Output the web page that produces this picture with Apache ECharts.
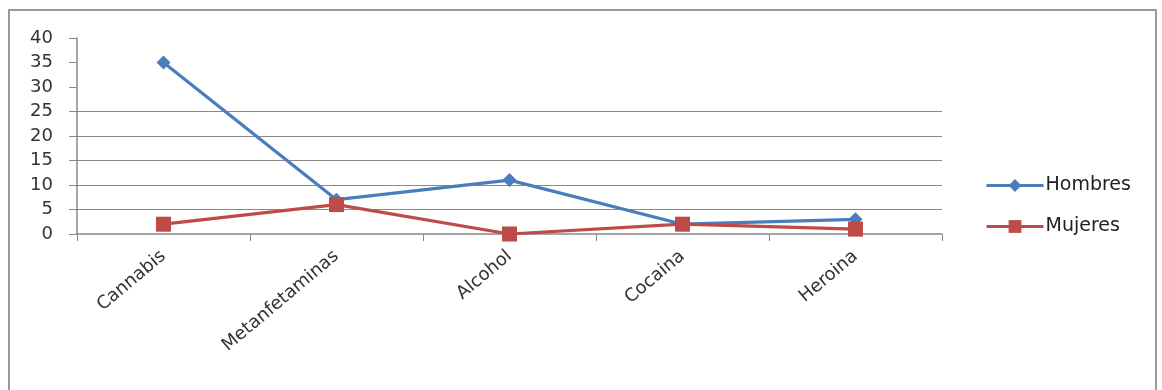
<!DOCTYPE html>
<html><head><meta charset="utf-8">
<script src="https://cdn.jsdelivr.net/npm/echarts@6/dist/echarts.min.js"></script>
<style>html,body{margin:0;padding:0;background:#fff}#c{width:1162px;height:390px}</style>
</head><body><div id="c"></div>
<script>
const categories = ['Cannabis', 'Metanfetaminas', 'Alcohol', 'Cocaina', 'Heroina'];
const hombres = [35, 7, 11, 2, 3];
const mujeres = [2, 6, 0, 2, 1];
const yTicks = [0, 5, 10, 15, 20, 25, 30, 35, 40];

const chart = echarts.init(document.getElementById('c'));
const font = 'DejaVu Sans';
chart.setOption({
  animation: false,
  backgroundColor: '#fff',
  graphic: [{
    type: 'rect', shape: { x: 9, y: 10, width: 1147, height: 390 },
    style: { fill: 'none', stroke: '#9a9a9a', lineWidth: 2 }, silent: true, z: -1
  }],
  grid: { left: 77, right: 220, top: 38, bottom: 156 },
  legend: {
    orient: 'vertical', left: 980, top: 171, itemGap: 22,
    itemWidth: 57, itemHeight: 16,
    lineStyle: { width: 3 },
    textStyle: { fontFamily: font, fontSize: 19, color: '#222', padding: [0, 0, 0, -3] },
    data: ['Hombres', 'Mujeres']
  },
  xAxis: {
    type: 'category', data: categories, boundaryGap: true,
    axisLine: { lineStyle: { color: '#888', width: 1.5 } },
    axisTick: { show: true, length: 7, lineStyle: { color: '#888' } },
    axisLabel: { rotate: 40, margin: 20, fontFamily: font, fontSize: 18, color: '#333' }
  },
  yAxis: {
    type: 'value', min: 0, max: 40, interval: 5,
    axisLine: { show: true, lineStyle: { color: '#888', width: 1.5 } },
    axisTick: { show: true, length: 8, lineStyle: { color: '#888' } },
    axisLabel: { margin: 24, fontFamily: font, fontSize: 18, color: '#333',
      formatter: v => yTicks.includes(v) ? String(v) : '' },
    splitLine: { show: true, lineStyle: { color: ['transparent', '#8a8a8a', '#8a8a8a', '#8a8a8a', '#8a8a8a', '#8a8a8a', 'transparent', 'transparent', 'transparent'], width: 1.2 } }
  },
  series: [
    { name: 'Hombres', type: 'line', data: hombres, symbol: 'diamond', symbolSize: 14,
      lineStyle: { color: '#4a7ebb', width: 3.2 }, itemStyle: { color: '#4a7ebb' } },
    { name: 'Mujeres', type: 'line', data: mujeres, symbol: 'rect', symbolSize: 15,
      lineStyle: { color: '#be4b48', width: 3.2 }, itemStyle: { color: '#be4b48' } }
  ]
});
</script></body></html>
